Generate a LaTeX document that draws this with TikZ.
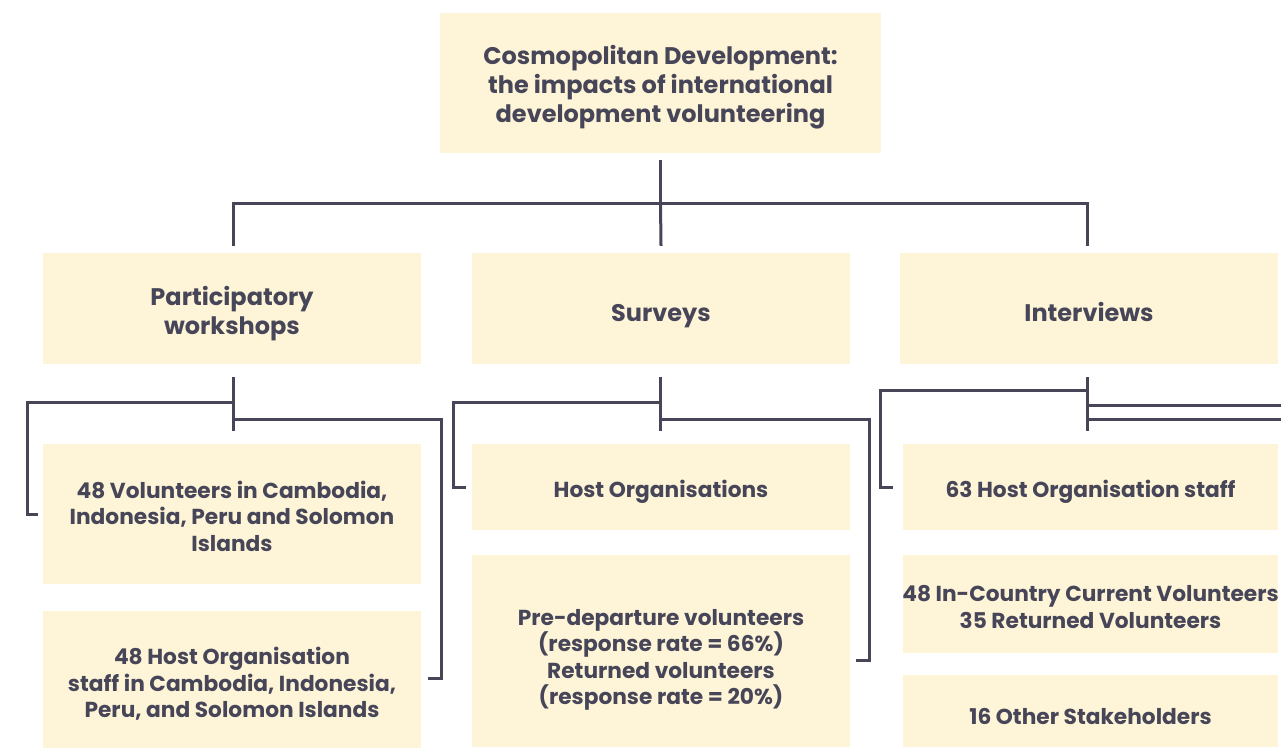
\documentclass[tikz,border=0pt]{standalone}
\usepackage{fontspec}
\setmainfont{Poppins}
\definecolor{boxfill}{HTML}{FEF5D8}
\definecolor{ink}{HTML}{474558}
\begin{document}
\begin{tikzpicture}[x=1pt,y=-1pt,
  box/.style={fill=boxfill, draw=none, inner sep=0pt},
  bigtxt/.style={align=center, text=ink, inner sep=0pt,
    font=\fontsize{24}{29}\selectfont\bfseries},
  smalltxt/.style={align=center, text=ink, inner sep=0pt,
    font=\fontsize{21.7}{26.5}\selectfont\bfseries},
  conn/.style={draw=ink, line width=3pt, line cap=butt, line join=miter}]
\useasboundingbox (0,0) rectangle (1281,747);
% level 1
\node[box, minimum width=441pt, minimum height=140pt] (top) at (660.5,83) {};
\node[bigtxt] (topt) at (660.5,87.5) {Cosmopolitan Development:\\the impacts of international\\development volunteering};
% level 2
\node[box, minimum width=378pt, minimum height=111pt] (pw) at (232,308.5) {};
\node[bigtxt] (pwt) at (232,314) {Participatory\\workshops};
\node[box, minimum width=378pt, minimum height=111pt] (sv) at (661,308.5) {};
\node[bigtxt] (svt) at (661,316.5) {Surveys};
\node[box, minimum width=378pt, minimum height=111pt] (iv) at (1089,308.5) {};
\node[bigtxt] (ivt) at (1089,311.5) {Interviews};
% level 3
\node[box, minimum width=378pt, minimum height=140pt] (vol) at (232,514) {};
\node[smalltxt] (volt) at (232,516) {48 Volunteers in Cambodia,\\Indonesia, Peru and Solomon\\Islands};
\node[box, minimum width=378pt, minimum height=140pt] (hst) at (232,681) {};
\node[smalltxt] (hstt) at (232,684) {48 Host Organisation\\staff in Cambodia, Indonesia,\\Peru, and Solomon Islands};
\node[box, minimum width=378pt, minimum height=86pt] (ho) at (661,487) {};
\node[smalltxt] (hot) at (661,492) {Host Organisations};
\node[box, minimum width=378pt, minimum height=192pt] (pd) at (661,651) {};
\node[smalltxt] (pdt) at (661,660) {Pre-departure volunteers\\(response rate = 66\%)\\Returned volunteers\\(response rate = 20\%)};
\node[box, minimum width=375pt, minimum height=86pt] (hs) at (1090.5,487) {};
\node[smalltxt] (hst2) at (1090.5,492) {63 Host Organisation staff};
\node[box, minimum width=375pt, minimum height=98pt] (ic) at (1090.5,604) {};
\node[smalltxt] (ict) at (1090.5,607) {48 In-Country Current Volunteers\\35 Returned Volunteers};
\node[box, minimum width=375pt, minimum height=72pt] (os) at (1090.5,711) {};
\node[smalltxt] (ost) at (1090.5,716) {16 Other Stakeholders};
% connectors level 1 -> 2
\coordinate (j1) at (660.5,203);
\draw[conn] ([yshift=-7pt]top.south) -- (j1);
\draw[conn] ([xshift=1pt,yshift=7pt]pw.north) |- (j1) -| ([xshift=-2pt,yshift=7pt]iv.north);
\draw[conn] (j1) -- ([yshift=7pt]sv.north);
% participatory workshops
\coordinate (pa) at (233,377);
\coordinate (pb) at (233,431);
\draw[conn] (pa) -- (pb);
\draw[conn] (233,402) -- (27,402) |- ([xshift=-5pt]vol.west);
\draw[conn] (233,419) -- (441,419) |- (428,678);
% surveys
\coordinate (sa) at (660,377);
\coordinate (sb) at (660,431);
\draw[conn] (sa) -- (sb);
\draw[conn] (660,402) -- (453,402) |- ([xshift=-6pt]ho.west);
\draw[conn] (660,419) -- (869,419) |- (856,660);
% interviews
\coordinate (ia) at (1087,377);
\coordinate (ib) at (1087,431);
\draw[conn] (ia) -- (ib);
\draw[conn] (1087,390) -- (880,390) |- ([xshift=-10pt]hs.west);
\coordinate (r1) at (1281,405);
\coordinate (r2) at (1281,419);
\draw[conn] (1087,405) -- (r1);
\draw[conn] (1087,419) -- (r2);
\end{tikzpicture}
\end{document}
